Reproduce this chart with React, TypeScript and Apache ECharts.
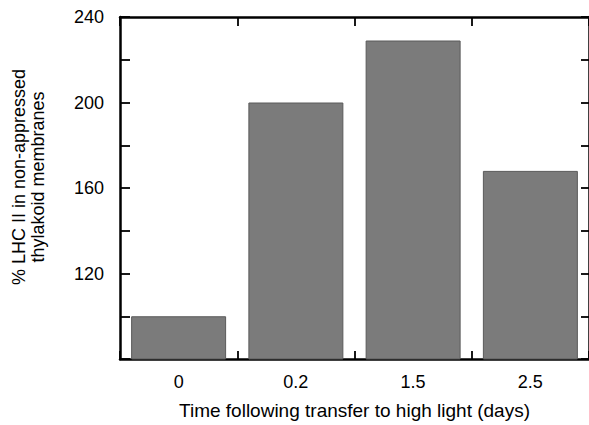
import React, { useEffect, useRef } from "react";
import * as echarts from "echarts";

const categories = ["0", "0.2", "1.5", "2.5"];
const values = [100, 200, 229, 168];
const yMin = 80;
const yMax = 240;
const yInterval = 20;
const yLabeled = [120, 160, 200, 240];
const xTitle = "Time following transfer to high light (days)";
const yTitle = "% LHC II in non-appressed\nthylakoid membranes";

const FONT = "Liberation Sans, Arial, Helvetica, sans-serif";

export default function App() {
  const ref = useRef<HTMLDivElement>(null);
  useEffect(() => {
    if (!ref.current) return;
    const chart = echarts.init(ref.current, null, { renderer: "svg" });
    const axisLine = { show: true, onZero: false, lineStyle: { color: "#000", width: 2.5 } };
    const tickStyle = { color: "#000", width: 1.8 };
    chart.setOption({
      animation: false,
      backgroundColor: "#ffffff",
      grid: { left: 120, top: 17, right: -2, bottom: 64 },
      xAxis: [
        {
          type: "category",
          data: categories,
          position: "bottom",
          axisLine,
          axisTick: { show: true, inside: true, length: 8, lineStyle: tickStyle },
          axisLabel: { color: "#000", fontFamily: FONT, fontSize: 18, margin: 14 },
          name: xTitle,
          nameLocation: "middle",
          nameGap: 42,
          nameTextStyle: { color: "#000", fontFamily: FONT, fontSize: 19 },
        },
        {
          type: "category",
          data: categories,
          position: "top",
          axisLine,
          axisTick: { show: true, inside: true, length: 9, lineStyle: tickStyle },
          axisLabel: { show: false },
        },
      ],
      yAxis: [
        {
          type: "value",
          min: yMin,
          max: yMax,
          interval: yInterval,
          position: "left",
          axisLine,
          splitLine: { show: false },
          axisTick: { show: true, inside: true, length: 10, lineStyle: tickStyle },
          axisLabel: {
            color: "#000",
            fontFamily: FONT,
            fontSize: 18,
            margin: 16,
            formatter: (v: number) => (yLabeled.indexOf(v) >= 0 ? String(v) : ""),
          },
        },
        {
          type: "value",
          min: yMin,
          max: yMax,
          interval: yInterval,
          position: "right",
          axisLine,
          splitLine: { show: false },
          axisTick: { show: true, inside: true, length: 8, lineStyle: tickStyle },
          axisLabel: { show: false },
        },
      ],
      series: [
        {
          type: "bar",
          data: values,
          xAxisIndex: 0,
          yAxisIndex: 0,
          barWidth: "81%",
          itemStyle: { color: "#7b7b7b", borderColor: "#5a5a5a", borderWidth: 1 },
        },
      ],
      graphic: [
        {
          type: "text",
          x: 28,
          y: 177,
          rotation: Math.PI / 2,
          style: {
            text: yTitle,
            align: "center",
            verticalAlign: "middle",
            fontFamily: FONT,
            fontSize: 18,
            lineHeight: 19,
            fill: "#000",
          },
        },
      ],
    });
    return () => chart.dispose();
  }, []);
  return (
    <div
      ref={ref}
      style={{ position: "absolute", left: 0, top: 0, width: 589, height: 425 }}
    />
  );
}
